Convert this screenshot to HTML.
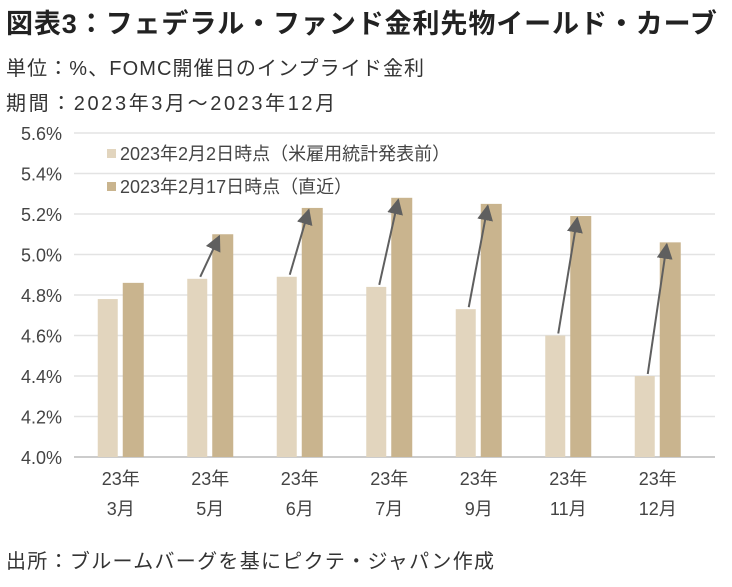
<!DOCTYPE html>
<html><head><meta charset="utf-8"><style>
body{margin:0;background:#fff;width:732px;height:587px;overflow:hidden;font-family:"Liberation Sans","Noto Sans CJK JP",sans-serif;color:#333}
.t{position:absolute;left:6px;white-space:nowrap}
</style></head><body>
<div class="t" style="top:2px;font-size:27px;font-weight:bold;color:#222;letter-spacing:0.9px">図表3：フェデラル・ファンド金利先物イールド・カーブ</div>
<div class="t" style="top:52px;font-size:20px;letter-spacing:1.1px">単位：%、FOMC開催日のインプライド金利</div>
<div class="t" style="top:87px;font-size:20px;letter-spacing:2.6px">期間：2023年3月～2023年12月</div>
<div class="t" style="top:545px;font-size:20px;letter-spacing:1.3px">出所：ブルームバーグを基にピクテ・ジャパン作成</div>
<svg id="c" width="732" height="587" style="position:absolute;left:0;top:0">
<defs><marker id="ah" viewBox="0 0 10 10" refX="9" refY="5" markerWidth="8" markerHeight="8" orient="auto"><path d="M0,0L10,5L0,10z" fill="#5f5f5f"/></marker></defs>
</svg>
<script>
const categories=[["23年","3月"],["23年","5月"],["23年","6月"],["23年","7月"],["23年","9月"],["23年","11月"],["23年","12月"]];
const seriesBefore=[4.78,4.88,4.89,4.84,4.73,4.60,4.40];
const seriesLatest=[4.86,5.10,5.23,5.28,5.25,5.19,5.06];
const yTicks=[4.0,4.2,4.4,4.6,4.8,5.0,5.2,5.4,5.6];
const legendLabels=["2023年2月2日時点（米雇用統計発表前）","2023年2月17日時点（直近）"];
const svg=document.getElementById('c');const NS='http://www.w3.org/2000/svg';
function mk(t,a,p){const e=document.createElementNS(NS,t);for(const k in a)e.setAttribute(k,a[k]);(p||svg).appendChild(e);return e;}
const y=v=>457-(v-4.0)/1.6*324;
const step=89.5,x0=76;const xc=i=>x0+step*(i+0.5);
yTicks.forEach(v=>{
 const l=mk('line',{x1:74,x2:715,y1:y(v),y2:y(v),stroke:v==4.0?'#bbb':'#e3e3e3','stroke-width':1.5});
 
 
 const t=mk('text',{x:62,y:y(v)+7,'text-anchor':'end','font-size':18,fill:'#444'});t.textContent=v.toFixed(1)+'%';
 
 
});
categories.forEach((c,i)=>{
 const cx=xc(i);
 const b1=mk('rect',{x:cx-23,y:y(seriesBefore[i]),width:20,height:457-y(seriesBefore[i]),fill:'#e2d5be'});
 
 
 const b2=mk('rect',{x:cx+2,y:y(seriesLatest[i]),width:21,height:457-y(seriesLatest[i]),fill:'#c9b48e'});
 
 
 c.forEach((s,k)=>{const t=mk('text',{x:cx,y:485+k*30,'text-anchor':'middle','font-size':18,fill:'#444'});t.textContent=s;
  
  });
 if(i>0){const a=mk('line',{x1:cx-10,y1:y(seriesBefore[i])-2,x2:cx+9,y2:y(seriesLatest[i])+2,stroke:'#5f5f5f','stroke-width':2,'marker-end':'url(#ah)'});
  
  }
});
legendLabels.forEach((s,k)=>{
 const r=mk('rect',{x:107,y:149+k*33,width:9,height:9,fill:k?'#c9b48e':'#e2d5be'});
 
 
 const t=mk('text',{x:120,y:160+k*33,'font-size':18,fill:'#444'});t.textContent=s;
 
 
});
</script>
</body></html>
